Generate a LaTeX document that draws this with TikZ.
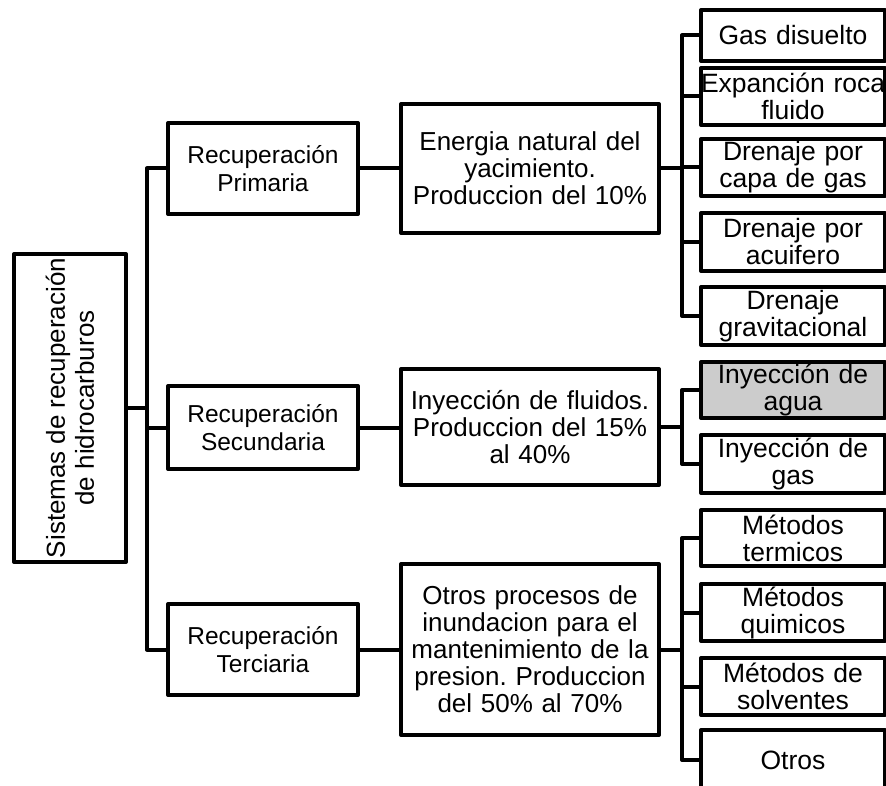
\documentclass[tikz,border=0pt]{standalone}
\usepackage{fontspec}
\setmainfont{Liberation Sans}
\usepackage{graphicx}
\frenchspacing

\begin{document}
\begin{tikzpicture}[
  x=1pt, y=-1pt,
  box/.style={draw,line width=4pt,line join=round,inner sep=0pt,align=center},
  lbox/.style={box,minimum width=190pt,font=\fontsize{24.5}{28}\selectfont},
  mbox/.style={box,minimum width=258pt,text width=250pt,font=\fontsize{26}{27}\selectfont},
  rbox/.style={box,minimum width=184pt,text width=184pt,font=\fontsize{26.5}{27}\selectfont},
  conn/.style={line width=4pt,line join=round}
]
\useasboundingbox (0,0) rectangle (886,786);

\node[box,minimum width=112pt,minimum height=308pt] (root) at (70,408)
  {\rotatebox{90}{\parbox{300pt}{\centering\fontsize{26}{29}\selectfont Sistemas de recuperación\\de hidrocarburos}}};

\node[lbox,minimum height=91pt] (prim) at (263,168.5) {Recuperación\\Primaria};
\node[lbox,minimum height=83pt] (sec) at (263,427.5) {Recuperación\\Secundaria};
\node[lbox,minimum height=91pt] (ter) at (263,649.5) {Recuperación\\Terciaria};

\node[mbox,minimum height=129pt] (ener) at (530,168.5) {Energia natural del\\yacimiento.\\Produccion del 10\%};
\node[mbox,minimum height=116pt] (flu) at (530,427) {Inyección de fluidos.\\Produccion del 15\%\\al 40\%};
\node[mbox,minimum height=171pt] (otp) at (530,649.5) {Otros procesos de\\inundacion para el\\mantenimiento de la\\presion. Produccion\\del 50\% al 70\%};

\node[rbox,minimum height=51pt] (gas) at (793,35.5) {Gas disuelto};
\node[rbox,minimum height=57pt] (exp) at (793,96.5) {\mbox{Expanción roca}\\fluido};
\node[rbox,minimum height=57pt] (capa) at (793,167.5) {Drenaje por\\capa de gas};
\node[rbox,minimum height=58pt] (acu) at (793,242) {Drenaje por\\acuifero};
\node[rbox,minimum height=58pt] (grav) at (793,316) {Drenaje\\gravitacional};
\node[rbox,minimum height=56pt,fill=black!20] (agua) at (793,390) {Inyección de\\agua};
\node[rbox,minimum height=58pt] (igas) at (793,464) {Inyección de\\gas};
\node[rbox,minimum height=56pt] (term) at (793,538) {Métodos\\termicos};
\node[rbox,minimum height=57pt] (quim) at (793,612.5) {Métodos\\quimicos};
\node[rbox,minimum height=57pt] (solv) at (793,686.5) {Métodos de\\solventes};
\node[rbox,minimum height=60pt] (otros) at (793,760) {Otros};

\draw[conn] (root.east) -- ++(19,0) |- (prim.west);
\draw[conn] (root.east) -- ++(19,0) |- (sec.west);
\draw[conn] (root.east) -- ++(19,0) |- (ter.west);

\draw[conn] (prim.east) -- (prim.east -| ener.west);
\draw[conn] (sec.east) -- (sec.east -| flu.west);
\draw[conn] (ter.east) -- (ter.east -| otp.west);

\draw[conn] (ener.east) -- ++(21,0) |- (gas.west);
\draw[conn] (ener.east) -- ++(21,0) |- (exp.west);
\draw[conn] (ener.east) -- ++(21,0) |- (capa.west);
\draw[conn] (ener.east) -- ++(21,0) |- (acu.west);
\draw[conn] (ener.east) -- ++(21,0) |- (grav.west);

\draw[conn] (flu.east) -- ++(21,0) |- (agua.west);
\draw[conn] (flu.east) -- ++(21,0) |- (igas.west);

\draw[conn] (otp.east) -- ++(21,0) |- (term.west);
\draw[conn] (otp.east) -- ++(21,0) |- (quim.west);
\draw[conn] (otp.east) -- ++(21,0) |- (solv.west);
\draw[conn] (otp.east) -- ++(21,0) |- (otros.west);
\end{tikzpicture}
\end{document}
